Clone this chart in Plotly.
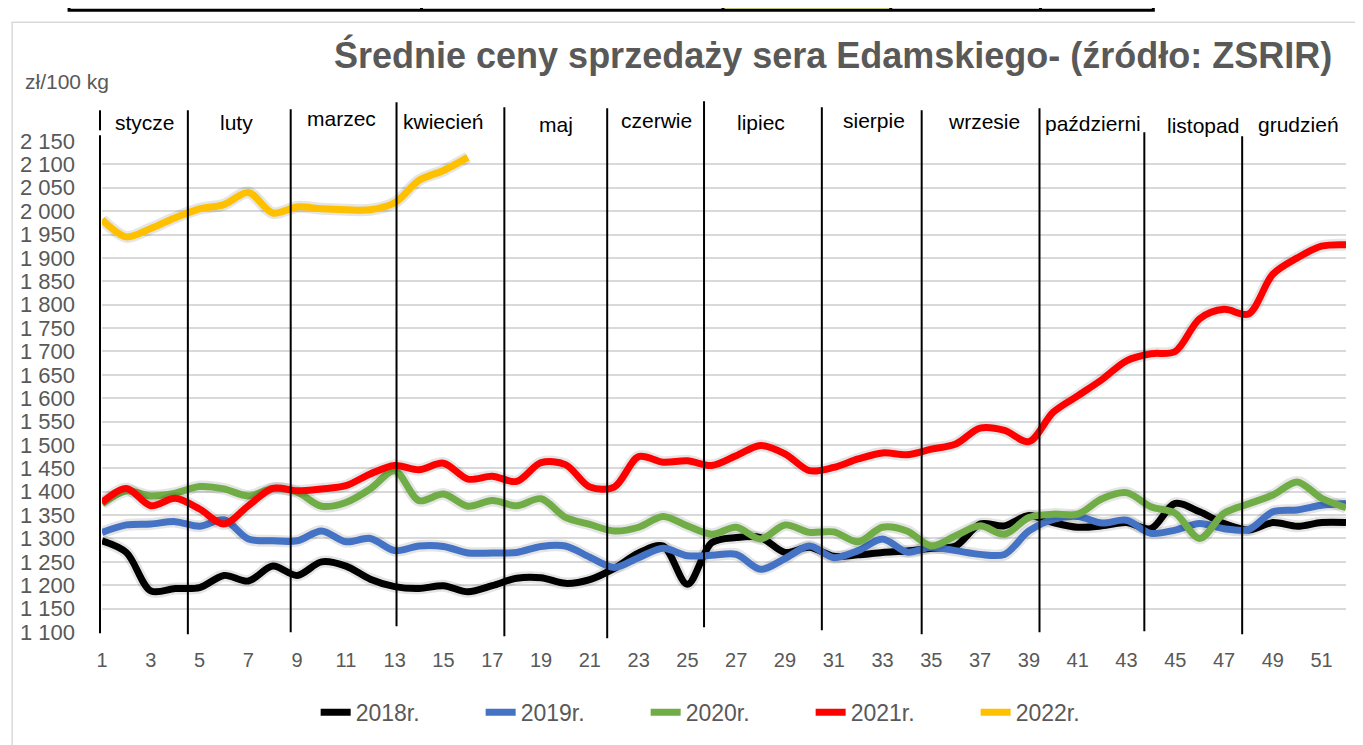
import plotly.graph_objects as go

# weekly average prices, zł/100 kg
weeks = list(range(1, 53))

y2018 = [1295, 1270, 1188, 1193, 1195, 1221, 1209, 1241, 1221, 1250,
         1241, 1213, 1197, 1193, 1199, 1186, 1199, 1215, 1216, 1204,
         1212, 1236, 1269, 1284, 1202, 1291, 1302, 1302, 1270, 1281,
         1262, 1265, 1270, 1273, 1279, 1284, 1331, 1327, 1349, 1334,
         1324, 1327, 1334, 1321, 1375, 1357, 1332, 1318, 1334, 1326,
         1334, 1334]
y2019 = [1313, 1329, 1331, 1336, 1326, 1340, 1299, 1295, 1295, 1316,
         1293, 1300, 1274, 1284, 1283, 1269, 1269, 1270, 1283, 1284,
         1260, 1238, 1259, 1279, 1263, 1264, 1266, 1234, 1257, 1284,
         1259, 1274, 1299, 1271, 1281, 1274, 1266, 1266, 1316, 1341,
         1347, 1333, 1339, 1311, 1318, 1332, 1321, 1319, 1357, 1361,
         1371, 1375]
y2020 = [1374, 1402, 1391, 1397, 1411, 1406, 1391, 1407, 1399, 1369,
         1377, 1406, 1445, 1381, 1395, 1369, 1381, 1370, 1385, 1345,
         1330, 1316, 1324, 1347, 1327, 1309, 1324, 1299, 1329, 1313,
         1314, 1293, 1324, 1316, 1284, 1306, 1327, 1309, 1345, 1352,
         1352, 1385, 1398, 1368, 1354, 1300, 1354, 1374, 1393, 1421,
         1386, 1366]
y2021 = [1377, 1407, 1370, 1386, 1363, 1331, 1370, 1407, 1402, 1406,
         1413, 1438, 1456, 1447, 1461, 1427, 1433, 1422, 1462, 1458,
         1410, 1410, 1475, 1463, 1466, 1456, 1477, 1499, 1481, 1445,
         1452, 1470, 1483, 1479, 1491, 1502, 1536, 1531, 1507, 1570,
         1605, 1640, 1680, 1695, 1700, 1770, 1790, 1780, 1865, 1900,
         1925, 1928]
y2022 = [1982, 1945, 1963, 1986, 2005, 2014, 2040, 1996, 2009, 2005,
         2003, 2003, 2018, 2066, 2087, 2115]

series_names = ["2018r.", "2019r.", "2020r.", "2021r.", "2022r."]
series_values = [y2018, y2019, y2020, y2021, y2022]
series_colors = ["#000000", "#4472C4", "#70AD47", "#FF0000", "#FFC000"]

months = ["stycze", "luty", "marzec", "kwiecień", "maj", "czerwie", "lipiec",
          "sierpie", "wrzesie", "październi", "listopad", "grudzień"]

W, H = 1363, 745
OFF = 8                                # page body margin
L, R, T, B = 100, 1346, 140.7, 631.7   # plot area in screen pixels


def px(xp):
    return (xp - L) / (R - L)


def py(yp):
    return (B - yp) / (B - T)


fig = go.Figure()

for name, vals, col in zip(series_names, series_values, series_colors):
    # soft halo imitating the Excel line shadow
    fig.add_trace(go.Scatter(
        x=weeks[:len(vals)], y=vals, mode="lines",
        line=dict(color="rgba(0,0,0,0.10)", width=12, shape="spline", smoothing=0.9),
        showlegend=False, hoverinfo="skip"))
    fig.add_trace(go.Scatter(
        x=weeks[:len(vals)], y=vals, mode="lines", name=name,
        line=dict(color=col, width=7, shape="spline", smoothing=0.9)))

shapes = []
# month dividers (pixel x, top y, bottom y)
dividers = [(98, 135, 633), (186, 110, 634), (289, 109, 632), (395, 102, 626),
            (503, 107, 636), (606, 108, 638), (703, 101, 627), (821, 107, 630),
            (921, 110, 634), (1039, 108, 632), (1144, 132, 631), (1242, 136, 634),
            (1359, 109, 632)]
for xp, yt, yb in dividers:
    shapes.append(dict(type="line", xref="paper", yref="paper",
                       x0=px(xp), x1=px(xp), y0=py(yt), y1=py(yb),
                       line=dict(color="black", width=2)))
shapes.append(dict(type="line", xref="paper", yref="paper",
                   x0=px(98), x1=px(98), y0=py(110), y1=py(130),
                   line=dict(color="black", width=2)))

# chart frame
shapes.append(dict(type="rect", xref="paper", yref="paper",
                   x0=px(10), x1=px(1380), y0=py(22), y1=py(760),
                   line=dict(color="#D9D9D9", width=1.5), layer="below"))

# remnants of the table above the chart
shapes.append(dict(type="rect", xref="paper", yref="paper",
                   x0=px(722), x1=px(890), y0=py(-5), y1=py(10),
                   fillcolor="#FFFF99", line=dict(width=0)))
shapes.append(dict(type="rect", xref="paper", yref="paper",
                   x0=px(67), x1=px(1153), y0=py(-5), y1=py(10),
                   line=dict(color="black", width=3)))
for xp in [420, 722, 890, 1040]:
    shapes.append(dict(type="line", xref="paper", yref="paper",
                       x0=px(xp), x1=px(xp), y0=py(-5), y1=py(10),
                       line=dict(color="black", width=3)))

annotations = []
label_pos = [(143, 122), (235, 122), (340, 118), (442, 121), (555, 124), (655, 120),
             (760, 122), (873, 120), (983, 121), (1093, 123), (1203, 125), (1298, 124)]
for m, (xp, yp) in zip(months, label_pos):
    annotations.append(dict(text=m, xref="paper", yref="paper", x=px(xp), y=py(yp),
                            xanchor="center", yanchor="middle", showarrow=False,
                            font=dict(family="Liberation Sans", size=21, color="black")))

annotations.append(dict(text="<b>Średnie ceny sprzedaży sera Edamskiego- (źródło: ZSRIR)</b>",
                        xref="paper", yref="paper", x=px(1334), y=py(55),
                        xanchor="right", yanchor="middle", showarrow=False,
                        font=dict(family="Liberation Sans", size=36, color="#595959")))
annotations.append(dict(text="zł/100 kg", xref="paper", yref="paper", x=px(21), y=py(81),
                        xanchor="left", yanchor="middle", showarrow=False,
                        font=dict(family="Liberation Sans", size=21, color="#595959")))

fig.update_layout(
    width=W, height=H,
    margin=dict(l=L - OFF, r=W - (R - OFF), t=T - OFF, b=H - (B - OFF), pad=0),
    paper_bgcolor="white", plot_bgcolor="white",
    separators=", ",
    font=dict(family="Liberation Sans", color="#595959"),
    xaxis=dict(range=[1, 52], tickvals=list(range(1, 52, 2)), showgrid=False,
               zeroline=False, showline=False, ticks="",
               tickfont=dict(size=20, color="#595959"), ticklabelstandoff=14),
    yaxis=dict(range=[1100, 2150], dtick=50, tickformat=",d", showgrid=True,
               gridcolor="#D9D9D9", gridwidth=1.5, zeroline=False, showline=False,
               ticks="", tickfont=dict(size=22, color="#595959"), ticklabelstandoff=26),
    legend=dict(orientation="h", x=px(314), xanchor="left", y=py(712), yanchor="middle",
                font=dict(size=23, color="#595959"), entrywidth=120,
                bgcolor="rgba(0,0,0,0)"),
    shapes=shapes,
    annotations=annotations,
    showlegend=True,
)

fig.write_html("out.html")
